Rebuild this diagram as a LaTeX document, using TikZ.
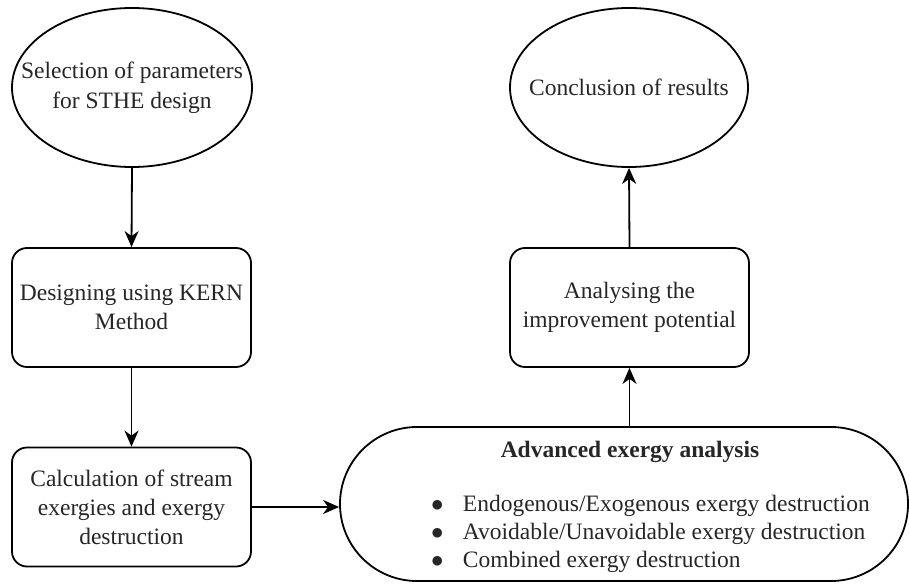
\documentclass[tikz,border=0pt]{standalone}
\usepackage{fontspec}
\setmainfont{Liberation Serif}
\usetikzlibrary{shapes.geometric,arrows.meta}
\begin{document}
\begin{tikzpicture}[x=1pt,y=-1pt,
  every node/.style={font=\fontsize{23.5}{29}\selectfont, text=black!85},
  ovalbox/.style={draw, ellipse, line width=1.8pt, minimum width=240pt, minimum height=159pt, inner xsep=-40pt, inner ysep=0pt, align=center},
  roundbox/.style={draw, rounded corners=15pt, line width=1.8pt, minimum width=239pt, minimum height=119pt, inner sep=0pt, align=center},
  stadium/.style={draw, rounded corners=77pt, line width=1.8pt, minimum width=568pt, minimum height=154pt, inner sep=0pt},
  flow/.style={line width=1.8pt, -{Stealth[length=16pt,width=14pt,inset=5pt]}},
  itemtext/.style={anchor=base west, inner sep=0pt}
]
\useasboundingbox (0,0) rectangle (909,583);

\node[ovalbox, font=\fontsize{23.5}{30}\selectfont] (sel) at (132,87.5) {Selection of parameters\\for STHE design};
\node[roundbox] (kern) at (131.5,307.5) {Designing using KERN\\Method};
\node[roundbox] (calc) at (131.5,507) {Calculation of stream\\exergies and exergy\\destruction};
\node[stadium] (adv) at (624,504) {};
\node[roundbox] (ana) at (629.5,307.5) {Analysing the\\improvement potential};
\node[ovalbox, minimum width=238pt] (conc) at (629,87.5) {Conclusion of results};

\node[anchor=base, inner sep=0pt, font=\fontsize{23.5}{29}\selectfont\bfseries] (advt) at (630,457) {Advanced exergy analysis};
\node[itemtext] (it1) at (431,511) {$\bullet$\hspace{19.3pt}Endogenous/Exogenous exergy destruction};
\node[itemtext] (it2) at (431,539) {$\bullet$\hspace{19.3pt}Avoidable/Unavoidable exergy destruction};
\node[itemtext] (it3) at (431,567) {$\bullet$\hspace{19.3pt}Combined exergy destruction};

\draw[flow] (sel.south) -- (kern.north);
\draw[flow] (kern.south) -- (calc.north);
\draw[flow] (calc.east) -- (calc.east -| adv.west);
\draw[flow] (ana.south |- adv.north) -- (ana.south);
\draw[flow] (ana.north) -- (conc.south);
\end{tikzpicture}
\end{document}
